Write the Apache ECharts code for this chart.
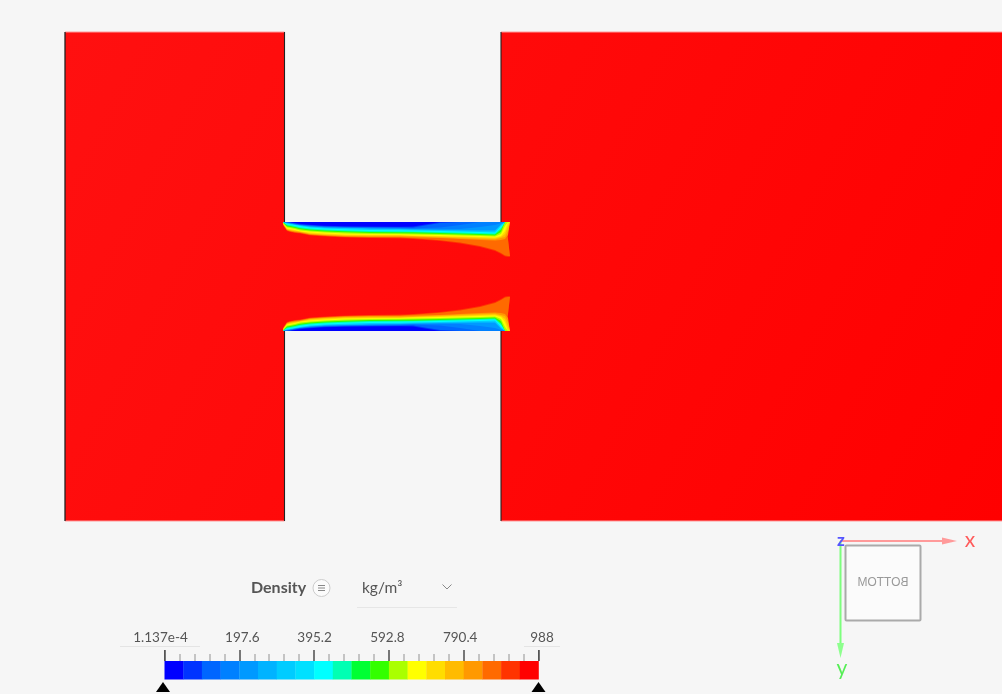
<!DOCTYPE html>
<html>
<head>
<meta charset="utf-8">
<style>html,body{margin:0;padding:0;background:#f6f6f6}#c{width:1002px;height:694px}</style>
<script src="https://cdn.jsdelivr.net/npm/echarts@6/dist/echarts.min.js"></script>
</head>
<body>
<div id="c"></div>
<script>
// ---- colour scale (density bins, 0 .. 988 kg/m3)
const scaleMin = 0, scaleMax = 988;
const binColors = ['#0000ff','#0033ff','#0066ff','#0080ff','#0099ff','#00b3ff','#00ccff','#00e0ff','#00ffff','#00ffb3','#00ff33','#33ff00','#aaff00','#ffff00','#ffdd00','#ffbb00','#ff9900','#ff6a00','#ff3300','#ff0000'];
const tickValues = [0, 197.6, 395.2, 592.8, 790.4, 988];
const tickLabels = ['1.137e-4','197.6','395.2','592.8','790.4','988'];

// ---- domain outline (H shape), x from inlet wall, y from the centre line
const outlineX = [0,219.5,219.5,436,436,937,937,436,436,219.5,219.5,0];
const outlineY = [-244.5,-244.5,-54.5,-54.5,-244.5,-244.5,244.5,244.5,54.5,54.5,244.5,244.5];
const channelWall = 54.5;

// ---- iso-density contours in the channel: depth away from the wall at each station
const stations = [218.5,222,225,230,235,245,260,280,305,335,348,375,395,415,430,436,440,443,445];
const contourBins = [18,17,16,15,14,13,12,11,9,8,6,4,3,2,1,0];
const depth18 = [4,9,10,11,11.5,13.5,14.5,15.5,16,16.5,17,19,21.5,25,29,32,34.5,35,35];
const depth17 = [3.5,8.5,9.5,10.5,11,13,14,15,15.5,15.8,16.3,18.3,20.5,24,28,31,33.5,34,34];
const depth16 = [3,8,9,10,10.5,12.5,13.5,14.5,15,15,15.5,16,17,18,18.5,18,17,13,0];
const depth15 = [2.5,7.5,8.5,9.3,10,12,13,14,14.3,14.3,14.6,15.5,16.3,17,17.5,16,15,9,0];
const depth14 = [2.3,7,8,8.8,9.5,11.5,12.5,13.3,13.6,13.6,14,14.7,15.3,16,16.5,15,12,4,0];
const depth13 = [2,6.5,7,8,9.3,10.5,11.5,12.5,12.8,13,13.5,14,14.5,15,15.5,14,9,0,0];
const depth12 = [1.5,5.5,6,7,8.5,9.5,10.5,11.5,12,12.2,12.5,13,13.5,14,14.5,12,4,0,0];
const depth11 = [1,4.5,5,6,7.3,8.5,9.5,10.3,11,11.2,11.5,12,12.5,13,13.5,10,0,0,0];
const depth9 = [0.7,3.5,4,5,6.3,7.5,8.5,9.3,10,10.2,10.3,11,11.5,12,12.5,7.5,0,0,0];
const depth8 = [0.5,2.5,3,4,5.3,6.5,7.5,8.3,9,9.3,9.5,10,10.5,11,11.5,6,0,0,0];
const depth6 = [0.2,1.8,2.2,3,4,5.5,6.5,7.3,8,8.2,8.5,9,9.5,10,10.5,4,0,0,0];
const depth4 = [0,1,1.6,2.4,3.3,4.5,5.5,6,6.5,7,7.5,8,8.3,8.5,8.5,2.5,0,0,0];
const depth3 = [0,0.6,1.3,2.2,3,4.2,5.2,5.6,6.2,6.5,6.9,7,7,5,3,1,0,0,0];
const depth2 = [0,0.4,1,2,2.8,3.8,4.8,5.2,5.8,6,6.3,5.5,3,0,0,0,0,0,0];
const depth1 = [0,0,0.6,1.6,2.5,3.3,4.2,4.7,5,5.2,5.5,1,0,0,0,0,0,0,0];
const depth0 = [0,0,0,1,1.8,2.8,3.7,4.2,4.5,4.8,4.5,0,0,0,0,0,0,0,0];
const contourDepths = [depth18,depth17,depth16,depth15,depth14,depth13,depth12,depth11,depth9,depth8,depth6,depth4,depth3,depth2,depth1,depth0];
const contourCloseX = 441;

const FONT = 'Lato';
const chart = echarts.init(document.getElementById('c'), null, {renderer:'canvas'});

function contourItem(params, api){
  const i = api.value(0);
  const d = contourDepths[i];
  const color = binColors[contourBins[i]];
  const children = [-1,1].map(sign => {
    const pts = stations.map((x,k) => api.coord([x, sign*(channelWall - d[k])]));
    pts.push(api.coord([contourCloseX, sign*channelWall]));
    pts.push(api.coord([stations[0], sign*channelWall]));
    return {type:'polygon', shape:{points:pts}, style:{fill:color}};
  });
  return {type:'group', children};
}

const labelStyle = {fontFamily:FONT,fontSize:13.5,color:'#555'};
const option = {
  animation:false,
  backgroundColor:'#f6f6f6',
  grid:[
    {left:0,right:0,top:0,bottom:0,containLabel:false},
    {left:164.5,width:374,top:661,height:31,containLabel:false}
  ],
  xAxis:[
    {gridIndex:0,type:'value',min:-65,max:937,show:false},
    {gridIndex:1,type:'value',min:scaleMin,max:scaleMax,position:'top',interval:197.6,
      axisLine:{show:false},
      splitLine:{show:false},
      axisTick:{show:true,inside:false,length:11,lineStyle:{color:'#777',width:2}},
      minorTick:{show:true,splitNumber:5,length:7,lineStyle:{color:'#c4c4c4',width:2}},
      axisLabel:{show:true,margin:16,hideOverlap:false,showMinLabel:true,showMaxLabel:true,
        customValues:tickValues,
        formatter:(v)=>{
          const i = tickValues.findIndex(t=>Math.abs(t-v)<0.01);
          const key = ['p0','p1','p2','p3','p4','p5'][i];
          return '{'+key+'|'+tickLabels[i]+'}';
        },
        rich:{
          p0:{...labelStyle,padding:[0,8,0,0]},
          p1:{...labelStyle,padding:[0,0,0,6]},
          p2:{...labelStyle,padding:[0,0,0,1]},
          p3:{...labelStyle,padding:[0,3,0,0]},
          p4:{...labelStyle,padding:[0,7,0,0]},
          p5:{...labelStyle,padding:[0,0,0,7]}
        }
      }
    }
  ],
  yAxis:[
    {gridIndex:0,type:'value',min:-276.5,max:417.5,inverse:true,show:false},
    {gridIndex:1,type:'value',min:0,max:31,inverse:true,show:false}
  ],
  series:[
    {type:'custom',xAxisIndex:0,yAxisIndex:0,silent:true,clip:false,z:1,
      data:[[0]],
      renderItem:(p,api)=>({type:'polygon',
        shape:{points:outlineX.map((x,i)=>api.coord([x,outlineY[i]]))},
        style:{fill:new echarts.graphic.LinearGradient(0,0,1,1,[
          {offset:0,color:'#ff1010'},{offset:0.5,color:'#ff0808'},{offset:1,color:'#ff0000'}])}
      })
    },
    {type:'custom',xAxisIndex:0,yAxisIndex:0,silent:true,clip:false,z:2,
      data:contourBins.map((b,i)=>[i]),
      renderItem:contourItem
    },
    {type:'custom',xAxisIndex:0,yAxisIndex:0,silent:true,clip:false,z:3,
      data:[[0]],
      renderItem:(p,api)=>{
        const seg=(x1,y1,x2,y2,c,w)=>{
          const a=api.coord([x1,y1]),b=api.coord([x2,y2]);
          return {type:'line',shape:{x1:a[0],y1:a[1],x2:b[0],y2:b[1]},style:{stroke:c,lineWidth:w}};
        };
        const T=outlineY[0],W=channelWall,L=outlineX[1],R=outlineX[3],E=outlineX[5];
        const dk='#222';
        return {type:'group',children:[
          seg(0,T,L,T,'#ff9a9a',1),seg(R,T,E,T,'#ff9a9a',1),
          seg(0,-T,L,-T,'#ff9a9a',1),seg(R,-T,E,-T,'#ff9a9a',1),
          seg(0,T,0,-T,dk,1.3),
          seg(L,T,L,-W,dk,1.1),seg(L,W,L,-T,dk,1.1),
          seg(R,T,R,-W,dk,1.1),seg(R,W,R,-T,dk,1.1)
        ]};
      }
    },
    {type:'custom',xAxisIndex:1,yAxisIndex:1,silent:true,clip:false,z:2,
      data:binColors.map((c,i)=>[i]),
      renderItem:(p,api)=>{
        const i=api.value(0),w=(scaleMax-scaleMin)/binColors.length;
        const a=api.coord([scaleMin+i*w,0]),b=api.coord([scaleMin+(i+1)*w,18.5]);
        return {type:'rect',shape:{x:a[0],y:a[1],width:b[0]-a[0]+0.3,height:b[1]-a[1]},style:{fill:binColors[i]}};
      }
    },
    {type:'scatter',xAxisIndex:1,yAxisIndex:1,silent:true,clip:false,z:3,
      symbol:'triangle',symbolSize:[14,10],
      itemStyle:{color:'#000',opacity:1},
      data:[{value:[scaleMin,26],symbolOffset:[-1.5,0]},{value:[scaleMax,26]}]
    }
  ],
  graphic:{elements:[
    {type:'line',silent:true,shape:{x1:120,y1:646.5,x2:200,y2:646.5},style:{stroke:'#e4e4e4',lineWidth:1}},
    {type:'line',silent:true,shape:{x1:524,y1:646.5,x2:560,y2:646.5},style:{stroke:'#e4e4e4',lineWidth:1}},
    {type:'line',silent:true,z:5,shape:{x1:164.5,y1:650,x2:164.5,y2:661},style:{stroke:'#555',lineWidth:1}},
    {type:'line',silent:true,z:5,shape:{x1:538.5,y1:650,x2:538.5,y2:661},style:{stroke:'#555',lineWidth:1}},
    {type:'text',silent:true,x:251,y:588,style:{text:'Density',fontFamily:FONT,fontWeight:'bold',fontSize:16,fill:'#555',verticalAlign:'middle'}},
    {type:'circle',silent:true,shape:{cx:321.5,cy:588,r:8.5},style:{fill:'#fbfbfb',stroke:'#ccc',lineWidth:1}},
    {type:'line',silent:true,shape:{x1:318,y1:585.5,x2:325,y2:585.5},style:{stroke:'#888',lineWidth:1}},
    {type:'line',silent:true,shape:{x1:318,y1:588,x2:325,y2:588},style:{stroke:'#888',lineWidth:1}},
    {type:'line',silent:true,shape:{x1:318,y1:590.5,x2:325,y2:590.5},style:{stroke:'#888',lineWidth:1}},
    {type:'text',silent:true,x:362,y:588,style:{text:'kg/m³',fontFamily:FONT,fontSize:15.5,fill:'#555',verticalAlign:'middle'}},
    {type:'polyline',silent:true,shape:{points:[[442.5,584.5],[447,589],[451.5,584.5]]},style:{fill:'none',stroke:'#888',lineWidth:1}},
    {type:'line',silent:true,shape:{x1:357,y1:607.5,x2:457,y2:607.5},style:{stroke:'#e6e6e6',lineWidth:1}},
    {type:'rect',silent:true,shape:{x:845.5,y:545.5,width:75,height:75,r:1},style:{fill:'#fbfbfb',stroke:'#aaa',lineWidth:2}},
    {type:'text',silent:true,z:6,x:883,y:583,scaleX:-1,style:{text:'BOTTOM',fontFamily:'Liberation Sans',fontSize:12,fill:'#999',align:'center',verticalAlign:'middle'}},
    {type:'line',silent:true,shape:{x1:840,y1:541,x2:945,y2:541},style:{stroke:'#ff9a9a',lineWidth:2}},
    {type:'polygon',silent:true,shape:{points:[[942,537.5],[957,541],[942,544.5]]},style:{fill:'#ff9a9a'}},
    {type:'line',silent:true,shape:{x1:840.5,y1:541,x2:840.5,y2:645},style:{stroke:'#7dff7d',lineWidth:2}},
    {type:'polygon',silent:true,shape:{points:[[837,643],[840.5,658],[844,643]]},style:{fill:'#8dff8d'}},
    {type:'text',silent:true,x:970,y:540,style:{text:'x',fontFamily:FONT,fontSize:21,fill:'#ff5a5a',align:'center',verticalAlign:'middle'}},
    {type:'text',silent:true,x:842,y:668,style:{text:'y',fontFamily:FONT,fontSize:21,fill:'#55ee55',align:'center',verticalAlign:'middle'}},
    {type:'text',silent:true,x:841,y:540.5,style:{text:'z',fontFamily:FONT,fontWeight:'bold',fontSize:17,fill:'#5555ff',align:'center',verticalAlign:'middle'}}
  ]}
};
chart.setOption(option);
</script>
</body>
</html>
